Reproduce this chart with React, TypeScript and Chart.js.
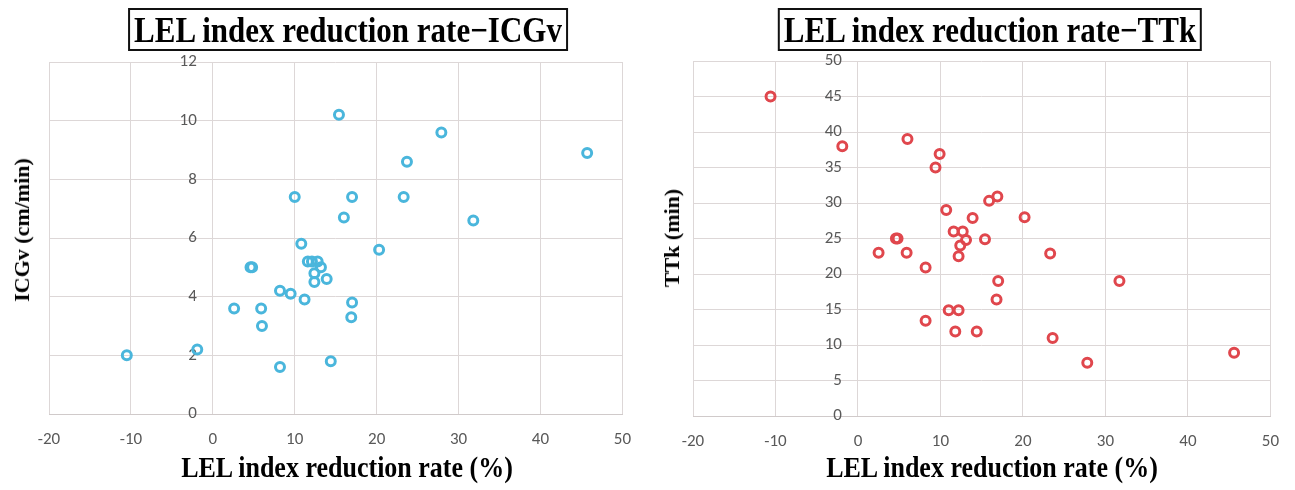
import React, { useEffect, useRef } from "react";
import { Chart, registerables } from "chart.js";

Chart.register(...registerables);

// LEL index reduction rate (%) vs ICGv (cm/min)
const icgvRate = [-10.5, -1.9, 2.6, 4.6, 4.8, 5.9, 6.0, 8.2, 8.2, 9.5, 10.0, 10.8, 11.2, 11.6, 12.1, 12.4, 12.4, 12.8, 13.2, 13.9, 14.4, 15.4, 16.0, 16.9, 17.0, 17.0, 20.3, 23.3, 23.7, 27.9, 31.8, 45.7];
const icgvValues = [2.0, 2.2, 3.6, 5.0, 5.0, 3.6, 3.0, 4.2, 1.6, 4.1, 7.4, 5.8, 3.9, 5.2, 5.2, 4.8, 4.5, 5.2, 5.0, 4.6, 1.8, 10.2, 6.7, 3.3, 3.8, 7.4, 5.6, 7.4, 8.6, 9.6, 6.6, 8.9];

// LEL index reduction rate (%) vs TTk (min)
const ttkRate = [-10.6, -1.9, 2.5, 4.6, 4.8, 5.9, 6.0, 8.2, 8.2, 9.4, 9.9, 10.7, 11.0, 11.6, 11.8, 12.2, 12.2, 12.4, 12.7, 13.1, 13.9, 14.4, 15.4, 15.9, 16.8, 16.9, 17.0, 20.2, 23.3, 23.6, 27.8, 31.7, 45.6];
const ttkValues = [45, 38, 23, 25, 25, 23, 39, 20.9, 13.4, 35, 36.9, 29, 14.9, 26, 11.9, 14.9, 22.5, 24, 26, 24.8, 27.9, 11.9, 24.9, 30.3, 16.4, 30.9, 19, 28, 22.9, 11, 7.5, 19, 8.9];

const xAxisRange = [-20, 50];
const xAxisStep = 10;
const icgvAxisRange = [0, 12];
const icgvAxisStep = 2;
const ttkAxisRange = [0, 50];
const ttkAxisStep = 5;

const titles = ["LEL index reduction rate\u2212ICGv", "LEL index reduction rate\u2212TTk"];
const xTitle = "LEL index reduction rate (%)";
const yTitles = ["ICGv (cm/min)", "TTk (min)"];

const GRID = "#ddd7d7";
const TICK = "#595959";
const FONT_FAMILY = "Carlito, 'Noto Sans', sans-serif";
const FONT_SIZE = 17;
const tickFont = { family: FONT_FAMILY, size: FONT_SIZE };

// Draws the value-axis tick labels beside the vertical line at x = 0 (Excel-style crossing axis)
const crossingYLabels = {
  id: "crossingYLabels",
  beforeDatasetsDraw(chart: any) {
    const { ctx, scales } = chart;
    const xs = scales.x;
    const ys = scales.y;
    const px = xs.getPixelForValue(0) - 16;
    ctx.save();
    ctx.font = `${FONT_SIZE}px ${FONT_FAMILY}`;
    ctx.fillStyle = TICK;
    ctx.textAlign = "right";
    ctx.textBaseline = "middle";
    ys.ticks.forEach((t: any) => {
      ctx.fillText(String(t.value), px, ys.getPixelForValue(t.value));
    });
    ctx.restore();
  },
};

type Pad = { left: number; right: number; top: number; bottom: number };

function Scatter(props: {
  xs: number[];
  ys: number[];
  color: string;
  yRange: number[];
  yStep: number;
  pad: Pad;
  width: number;
  height: number;
  left: number;
}) {
  const ref = useRef<HTMLCanvasElement | null>(null);
  useEffect(() => {
    if (!ref.current) return;
    const { xs, ys, color, yRange, yStep, pad } = props;
    const chart = new Chart(ref.current, {
      type: "scatter",
      data: {
        datasets: [
          {
            data: xs.map((x, i) => ({ x, y: ys[i] })),
            pointRadius: 4.5,
            pointHoverRadius: 4.5,
            pointBorderWidth: 3,
            pointBorderColor: color,
            pointBackgroundColor: "rgba(255,255,255,0)",
          },
        ],
      },
      plugins: [crossingYLabels],
      options: {
        responsive: false,
        animation: false,
        events: [],
        layout: { padding: { left: pad.left, right: pad.right, top: pad.top, bottom: 0 } },
        plugins: {
          legend: { display: false },
          tooltip: { enabled: false },
          title: { display: false },
        },
        scales: {
          x: {
            type: "linear",
            min: xAxisRange[0],
            max: xAxisRange[1],
            ticks: { stepSize: xAxisStep, color: TICK, font: tickFont, padding: 16 },
            grid: { color: GRID, drawTicks: false, lineWidth: 1 },
            border: { display: true, color: "#d0caca" },
            afterFit: (s: any) => {
              s.height = pad.bottom;
            },
          },
          y: {
            type: "linear",
            position: { x: 0 } as any,
            min: yRange[0],
            max: yRange[1],
            ticks: { stepSize: yStep, display: false },
            grid: { color: GRID, drawTicks: false, lineWidth: 1 },
            border: { display: false },
          },
        },
      } as any,
    });
    return () => chart.destroy();
  }, []);
  return (
    <canvas
      ref={ref}
      width={props.width}
      height={props.height}
      style={{ position: "absolute", left: props.left, top: 0, width: props.width, height: props.height }}
    />
  );
}

const serif = "'Liberation Serif', 'Times New Roman', serif";

function TitleBox(props: { text: string; cx: number }) {
  return (
    <div
      style={{
        position: "absolute",
        left: props.cx,
        top: 8,
        transform: "translateX(-50%)",
        border: "2.5px solid #111",
        padding: "0 4px",
        height: 39,
        fontFamily: serif,
        fontWeight: "bold",
        fontSize: 31,
        lineHeight: "39px",
        whiteSpace: "nowrap",
        color: "#000",
        background: "#fff",
      }}
    >
      <span style={{ display: "inline-block", transform: "scaleY(1.15)" }}>{props.text}</span>
    </div>
  );
}

function XTitle(props: { cx: number }) {
  return (
    <div
      style={{
        position: "absolute",
        left: props.cx,
        top: 468,
        transform: "translate(-50%, -50%) scaleY(1.1)",
        fontFamily: serif,
        fontWeight: "bold",
        fontSize: 26,
        whiteSpace: "nowrap",
        color: "#000",
      }}
    >
      {xTitle}
    </div>
  );
}

function YTitle(props: { text: string; cx: number; cy: number }) {
  return (
    <div
      style={{
        position: "absolute",
        left: props.cx,
        top: props.cy,
        transform: "translate(-50%, -50%) rotate(-90deg)",
        fontFamily: serif,
        fontWeight: "bold",
        fontSize: 22,
        whiteSpace: "nowrap",
        color: "#000",
      }}
    >
      {props.text}
    </div>
  );
}

export default function App() {
  return (
    <div style={{ position: "fixed", left: 0, top: 0, width: 1295, height: 490, background: "#fff", overflow: "hidden" }}>
      <Scatter
        xs={icgvRate}
        ys={icgvValues}
        color="#4ab6dc"
        yRange={icgvAxisRange}
        yStep={icgvAxisStep}
        pad={{ left: 49, right: 15, top: 62, bottom: 76 }}
        width={647}
        height={490}
        left={0}
      />
      <Scatter
        xs={ttkRate}
        ys={ttkValues}
        color="#e0474d"
        yRange={ttkAxisRange}
        yStep={ttkAxisStep}
        pad={{ left: 46, right: 20, top: 61, bottom: 74 }}
        width={648}
        height={490}
        left={647}
      />
      <TitleBox text={titles[0]} cx={348} />
      <TitleBox text={titles[1]} cx={990} />
      <XTitle cx={347} />
      <XTitle cx={992} />
      <YTitle text={yTitles[0]} cx={22} cy={230} />
      <YTitle text={yTitles[1]} cx={672} cy={238} />
    </div>
  );
}
